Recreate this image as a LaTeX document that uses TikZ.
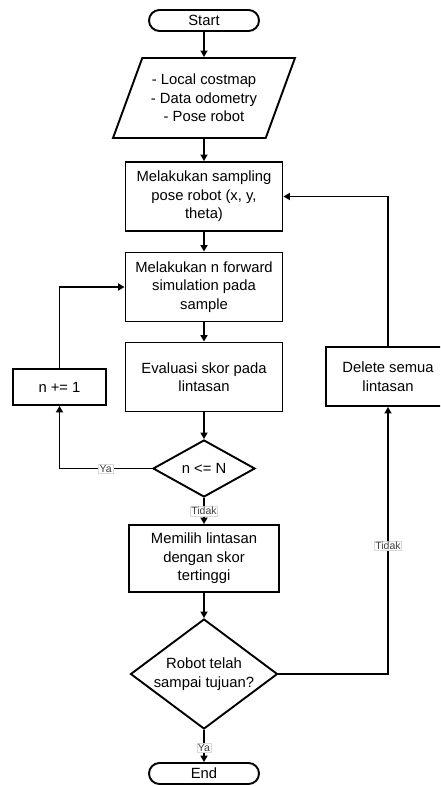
\documentclass[tikz,border=0pt]{standalone}
\usepackage{fontspec}
\setmainfont{Liberation Sans}
\usetikzlibrary{shapes.geometric,arrows.meta}

\begin{document}
\begin{tikzpicture}[x=1pt,y=1pt,yscale=-1,
  every node/.style={font=\fontsize{14.8pt}{18.5pt}\selectfont, align=center},
  terminal/.style={draw, line width=1.9pt, rounded corners=10.5pt, minimum width=110pt, minimum height=21pt, inner sep=0pt},
  iobox/.style={draw, line width=1.9pt, trapezium, trapezium left angle=62.3, trapezium right angle=117.7, trapezium stretches=true, minimum width=182pt, minimum height=80pt, inner sep=0pt},
  process/.style={draw, line width=1.9pt, minimum width=157pt, minimum height=69pt, inner sep=0pt},
  decision/.style={draw, line width=1.9pt, diamond, inner sep=0pt},
  flow/.style={line width=1.9pt, -{Triangle[width=7pt,length=6.5pt]}},
  branch/.style={fill=white, draw=black!15, line width=0.6pt, inner sep=1pt, font=\fontsize{10.5pt}{11pt}\selectfont, text=black!75}
]
%set diagram frame at 440 x 786, right box runs off the edge
\useasboundingbox (0,0) rectangle (440,786);
\clip (0,0) rectangle (440,786);

%Shape: Terminator [id:start]
\node (start) at (204,20.5) [terminal] {Start};
%Shape: Parallelogram [id:input]
\node (input) at (204,98) [iobox] {- Local costmap\\- Data odometry\\- Pose robot};
%Shape: Rectangle [id:sample]
\node (sample) at (204,196.5) [process] {Melakukan sampling\\pose robot (x, y,\\theta)};
%Shape: Rectangle [id:sim]
\node (sim) at (204,287) [process] {Melakukan n forward\\simulation pada\\sample};
%Shape: Rectangle [id:eval]
\node (eval) at (204,377) [process] {Evaluasi skor pada\\lintasan};
%Shape: Rectangle [id:incr]
\node (incr) at (59.5,387) [process, minimum width=93pt, minimum height=36pt] {n += 1};
%Shape: Diamond [id:check]
\node (check) at (204,468.5) [decision, minimum width=102pt, minimum height=57pt] {n <= N};
%Shape: Rectangle [id:select]
\node (select) at (204,558.5) [process, minimum width=150pt, minimum height=67pt] {Memilih lintasan\\dengan skor\\tertinggi};
%Shape: Diamond [id:goal]
\node (goal) at (204,674) [decision, aspect=1.34, minimum width=147pt, minimum height=110pt] {Robot telah\\sampai tujuan?};
%Shape: Terminator [id:stop]
\node (stop) at (204,773.5) [terminal] {End};
%Shape: Rectangle [id:delete]
\node (delete) at (388,376.5) [process, minimum width=124pt, minimum height=59pt] {Delete semua\\lintasan};

%Straight Lines
\draw [flow] (start) -- (input);
\draw [flow] (input) -- (sample);
\draw [flow] (sample) -- (sim);
\draw [flow] (sim) -- (eval);
\draw [flow] (eval) -- (check);
\draw [flow] (check) -- node [branch] {Tidak} (select);
\draw [flow] (select) -- (goal);
\draw [flow] (goal) -- node [branch, pos=0.55] {Ya} (stop);

%Loop Lines
\draw [flow] (check.west) -| node [branch, pos=0.25] {Ya} (incr.south);
\draw [flow] (incr.north) |- (sim.west);
\draw [flow] (goal.east) -| node [branch, pos=0.74] {Tidak} (delete.south);
\draw [flow] (delete.north) |- (sample.east);

\end{tikzpicture}
\end{document}
